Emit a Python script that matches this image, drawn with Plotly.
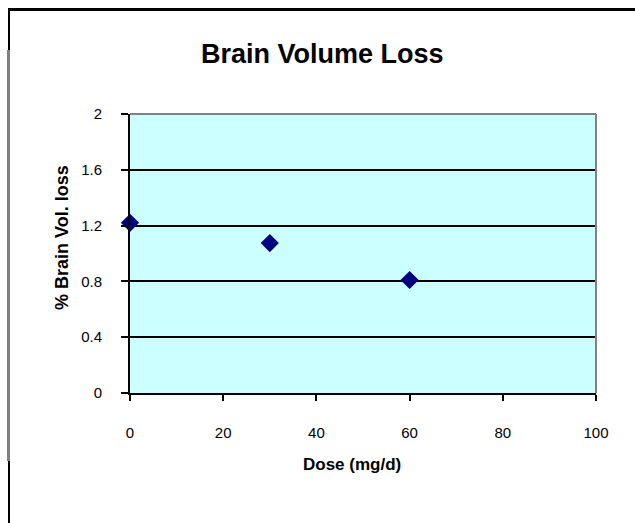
import plotly.graph_objects as go

# Dose-response data
dose = [0, 30, 60]
vol_loss = [1.22, 1.075, 0.81]

x_ticks = [0, 20, 40, 60, 80, 100]
y_ticks = [0, 0.4, 0.8, 1.2, 1.6, 2]
y_tick_text = ["0", "0.4", "0.8", "1.2", "1.6", "2"]

W, H = 635, 523
L, R, T, B = 130, 39, 114, 130
pw, ph = W - L - R, H - T - B


def px(x):
    return (x - L) / pw


def py(y):
    return (H - B - y) / ph


FONT = "Liberation Sans, Arial, sans-serif"

fig = go.Figure()
fig.add_trace(go.Scatter(
    x=dose, y=vol_loss, mode="markers",
    marker=dict(symbol="diamond", size=14, color="#000080",
                line=dict(width=0)),
    cliponaxis=False, showlegend=False,
))

fig.update_layout(
    width=W, height=H,
    margin=dict(l=L, r=R, t=T, b=B),
    paper_bgcolor="white",
    plot_bgcolor="#CCFFFF",
    font=dict(family=FONT, color="black", size=15),
    xaxis=dict(
        range=[0, 100], tickvals=x_ticks, showgrid=False, zeroline=False,
        showline=True, linecolor="black", linewidth=2,
        ticks="outside", ticklen=6, tickwidth=2, tickcolor="black",
        tickfont=dict(size=15), ticklabelstandoff=19,
    ),
    yaxis=dict(
        range=[0, 2], tickvals=y_ticks, ticktext=y_tick_text,
        showgrid=True, gridcolor="black", gridwidth=2, zeroline=False,
        showline=True, linecolor="black", linewidth=2,
        ticks="outside", ticklen=7, tickwidth=2, tickcolor="black",
        tickfont=dict(size=15), ticklabelstandoff=16,
    ),
    annotations=[
        dict(text="<b>Brain Volume Loss</b>", x=px(322), y=py(54),
             xref="paper", yref="paper", showarrow=False,
             xanchor="center", yanchor="middle",
             font=dict(size=27, family=FONT)),
        dict(text="<b>Dose (mg/d)</b>", x=px(352), y=py(464),
             xref="paper", yref="paper", showarrow=False,
             xanchor="center", yanchor="middle",
             font=dict(size=17, family=FONT)),
        dict(text="<b>% Brain Vol. loss</b>", x=px(62), y=py(238),
             xref="paper", yref="paper", showarrow=False, textangle=-90,
             xanchor="center", yanchor="middle",
             font=dict(size=18, family=FONT)),
    ],
    shapes=[
        # plot area border (top and right)
        dict(type="line", xref="paper", yref="paper", x0=0, x1=1, y0=1, y1=1,
             line=dict(color="#808080", width=2)),
        dict(type="line", xref="paper", yref="paper", x0=1, x1=1, y0=0, y1=1,
             line=dict(color="#808080", width=2)),
        # chart frame
        dict(type="line", xref="paper", yref="paper",
             x0=px(8), x1=px(640), y0=py(9.5), y1=py(9.5),
             line=dict(color="black", width=3)),
        dict(type="line", xref="paper", yref="paper",
             x0=px(9), x1=px(9), y0=py(8), y1=py(50),
             line=dict(color="black", width=2)),
        dict(type="line", xref="paper", yref="paper",
             x0=px(8.5), x1=px(8.5), y0=py(50), y1=py(461),
             line=dict(color="#808080", width=3)),
        dict(type="line", xref="paper", yref="paper",
             x0=px(9), x1=px(9), y0=py(461), y1=py(530),
             line=dict(color="black", width=2)),
    ],
)

fig.write_html("out.html")
